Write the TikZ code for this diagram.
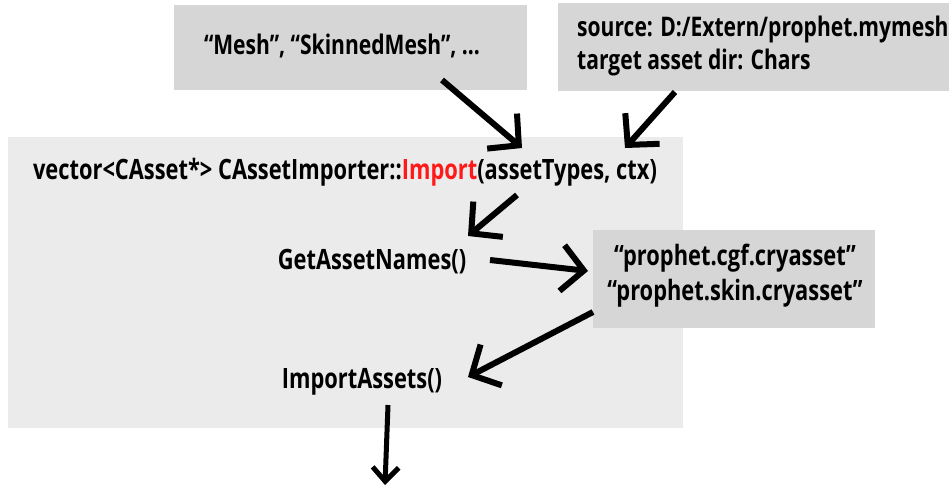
\documentclass[tikz,border=0pt]{standalone}
\usepackage{fontspec}
\setmainfont[FakeStretch=0.78]{Open Sans}
\usetikzlibrary{arrows.meta}
\definecolor{lightbg}{HTML}{EBEBEB}
\definecolor{darkbg}{HTML}{D6D6D6}
\definecolor{impred}{HTML}{FF1A1A}
\tikzset{
  box/.style={inner sep=0pt, draw=none},
  lbl/.style={inner sep=0pt, font=\bfseries\fontsize{27}{32}\selectfont, text=black},
  biglbl/.style={inner sep=0pt, font=\bfseries\fontsize{28}{33}\selectfont, text=black},
  bigarrow/.style={line width=6pt, -{Straight Barb[length=22pt, width=46pt, line width=6pt]}},
  smallarrow/.style={line width=5pt, -{Straight Barb[length=14pt, width=26pt, line width=5pt]}}
}
\begin{document}
\begin{tikzpicture}[x=1pt,y=-1pt]
\useasboundingbox (0,0) rectangle (949,488);
% boxes
\node[box, fill=lightbg, minimum width=675pt, minimum height=291pt] (importer) at (345.5,282.5) {};
\node[box, fill=darkbg, minimum width=353pt, minimum height=85pt] (types) at (350.5,47.5) {};
\node[box, fill=darkbg, minimum width=395pt, minimum height=88pt] (ctxbox) at (755.5,47) {};
\node[box, fill=darkbg, minimum width=282pt, minimum height=98pt] (names) at (734,279) {};
% texts
\node[lbl] (typestext) at (342,46) {“Mesh”, “SkinnedMesh”, ...};
\node[lbl, anchor=west] (src) at (577,29) {source: D:/Extern/prophet.mymesh};
\node[lbl, anchor=west] (tgt) at (577,62) {target asset dir: Chars};
\node[biglbl] (sig) at (345,172) {vector<CAsset*> CAssetImporter::\textcolor{impred}{Import}(assetTypes, ctx)};
\node[biglbl] (gan) at (372,262) {GetAssetNames()};
\node[biglbl] (cgf) at (735,258) {“prophet.cgf.cryasset”};
\node[biglbl] (skin) at (735,293) {“prophet.skin.cryasset”};
\node[biglbl] (ia) at (362,382) {ImportAssets()};
% connector endpoints
\coordinate (a1s) at (442,80);  \coordinate (a1e) at (522,148);
\coordinate (a2s) at (675,92);  \coordinate (a2e) at (625,148);
\coordinate (a3s) at (517,195); \coordinate (a3e) at (468,236);
\coordinate (a4s) at (490,260); \coordinate (a4e) at (588,271);
\coordinate (a5s) at (593,312); \coordinate (a5e) at (468,377);
\coordinate (a6s) at (388,405); \coordinate (a6e) at (385,485);
\draw[bigarrow] (a1s) -- (a1e);
\draw[bigarrow] (a2s) -- (a2e);
\draw[bigarrow] (a3s) -- (a3e);
\draw[bigarrow] (a4s) -- (a4e);
\draw[bigarrow] (a5s) -- (a5e);
\draw[smallarrow] (a6s) -- (a6e);
\end{tikzpicture}
\end{document}
